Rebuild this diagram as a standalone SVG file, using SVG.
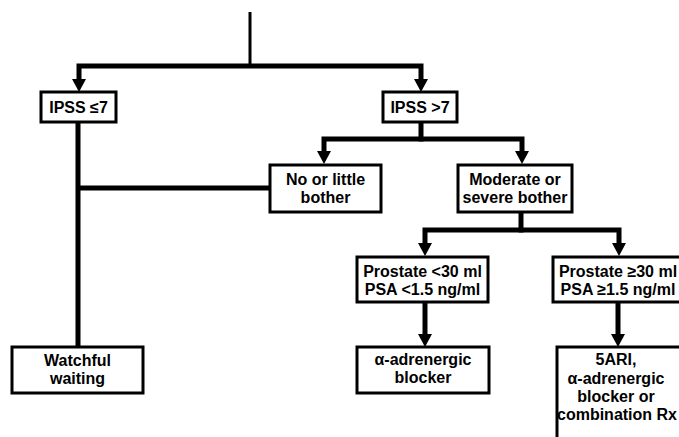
<svg xmlns="http://www.w3.org/2000/svg" width="679" height="437" viewBox="0 0 679 437">
<style>
.box{fill:#fff;stroke:#000;stroke-width:3}
.ln{fill:none;stroke:#000;stroke-width:5;stroke-linejoin:miter;stroke-linecap:square}
.thin{fill:none;stroke:#000;stroke-width:3}
.ah{fill:#000}
text{font-family:"Liberation Sans",Arial,sans-serif;font-weight:bold;font-size:16px;text-anchor:middle;fill:#000}
</style>
<rect width="679" height="437" fill="#fff"/>
<g id="connectors">
<line class="thin" x1="250" y1="12" x2="250" y2="66"/>
<path class="ln" d="M79,80 V66 H421 V80"/>
<polygon class="ah" points="72,79 86,79 79,92"/>
<polygon class="ah" points="414,79 428,79 421,92"/>
<path class="ln" d="M421,122 V139"/>
<path class="ln" d="M324,152 V139 H522 V152"/>
<polygon class="ah" points="317,151 331,151 324,164"/>
<polygon class="ah" points="515,151 529,151 522,164"/>
<path class="ln" d="M78,122 V346"/>
<path class="ln" d="M80,188 H270"/>
<path class="ln" d="M521,212 V230"/>
<path class="ln" d="M425,243 V230 H619 V243"/>
<polygon class="ah" points="418,243 432,243 425,256"/>
<polygon class="ah" points="612,243 626,243 619,256"/>
<path class="ln" d="M425,302 V334"/>
<polygon class="ah" points="418,334 432,334 425,347"/>
<path class="ln" d="M618,302 V334"/>
<polygon class="ah" points="611,334 625,334 618,347"/>
</g>
<g id="ipss_low">
<rect class="box" x="41" y="92" width="75" height="30"/>
<text x="78.5" y="113">IPSS ≤7</text>
</g>
<g id="ipss_high">
<rect class="box" x="383" y="92" width="74" height="30"/>
<text x="420" y="113">IPSS &gt;7</text>
</g>
<g id="little_bother">
<rect class="box" x="270" y="165" width="111" height="47"/>
<text x="325.5" y="185">No or little</text>
<text x="325.5" y="203">bother</text>
</g>
<g id="moderate_bother">
<rect class="box" x="458" y="165" width="114" height="47"/>
<text x="515" y="185">Moderate or</text>
<text x="515" y="203">severe bother</text>
</g>
<g id="prostate_small">
<rect class="box" x="357" y="257" width="131" height="45"/>
<text x="422.5" y="277">Prostate &lt;30 ml</text>
<text x="422.5" y="295">PSA &lt;1.5 ng/ml</text>
</g>
<g id="prostate_large">
<rect class="box" x="553" y="257" width="130" height="45"/>
<text x="618" y="277">Prostate ≥30 ml</text>
<text x="618" y="295">PSA ≥1.5 ng/ml</text>
</g>
<g id="watchful">
<rect class="box" x="12" y="347" width="131" height="46"/>
<text x="77.5" y="366">Watchful</text>
<text x="77.5" y="384">waiting</text>
</g>
<g id="alpha_blocker">
<rect class="box" x="357" y="347" width="132" height="46"/>
<text x="423" y="365">α-adrenergic</text>
<text x="423" y="383">blocker</text>
</g>
<g id="combination">
<rect class="box" x="557" y="347" width="128" height="100"/>
<text x="616" y="365">5ARI,</text>
<text x="616" y="384">α-adrenergic</text>
<text x="616" y="402">blocker or</text>
<text x="617" y="420">combination Rx</text>
</g>
</svg>
